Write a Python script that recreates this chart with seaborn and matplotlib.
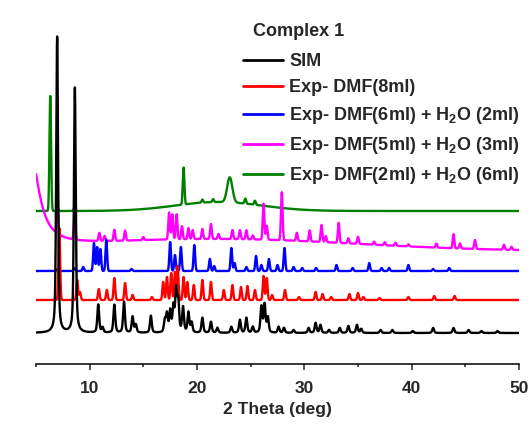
import numpy as np
import pandas as pd
import matplotlib
matplotlib.use("Agg")
import matplotlib.pyplot as plt
import seaborn as sns

# ---- 2-theta grid (deg) ----
two_theta = np.round(np.arange(5.0, 50.0001, 0.01), 2)

# ---- series labels / colours (legend order) ----
labels = [
    "SIM",
    "Exp- DMF(8ml)",
    "Exp- DMF(6ml) + H$_2$O (2ml)",
    "Exp- DMF(5ml) + H$_2$O (3ml)",
    "Exp- DMF(2ml) + H$_2$O (6ml)",
]
colors = ["#000000", "#ff0000", "#0000ff", "#ff00ff", "#008000"]
offsets = [31, 64, 93, 112.8, 153]        # vertical stacking (a.u.)
peak_sigma = [0.085, 0.075, 0.075, 0.075, 0.075]

# ---- reflection lists: position (deg) and intensity (a.u.) ----
sim_pos = [6.97, 8.62, 10.8, 11.2, 12.3, 13.2, 14.0, 14.3, 15.7, 17.0, 17.2,
           17.5, 17.8, 18.05, 18.25, 18.7, 19.2, 19.5, 20.5, 21.3, 21.9, 23.2,
           24.0, 24.6, 25.2, 26.0, 26.3, 26.6, 27.6, 28.1, 29.0, 30.4, 31.05,
           31.5, 32.3, 33.3, 34.1, 34.9, 35.3, 37.1, 38.2, 40.1, 42.0, 43.9,
           45.3, 46.5, 48.0]
sim_int = [296, 245, 28, 5, 28, 31, 16, 8, 17, 12, 18,
           21, 25, 41, 30, 25, 20, 10, 15, 11, 5, 6,
           13, 15, 6, 26, 28, 15, 6, 5, 3, 5, 10,
           8, 3, 5, 7, 8, 4, 3, 3, 2, 5, 5,
           3, 2, 2]

dmf8_pos = [7.17, 8.84, 9.1, 10.85, 11.6, 12.3, 13.3, 14.0, 15.8, 16.85, 17.2,
            17.6, 17.95, 18.2, 18.75, 19.1, 19.7, 20.5, 21.3, 22.5, 23.3, 24.1,
            24.7, 25.4, 26.2, 26.5, 27.0, 28.2, 29.5, 31.05, 31.7, 32.5, 34.2,
            35.0, 35.5, 37.0, 39.7, 42.1, 44.0]
dmf8_int = [72, 20, 8, 11, 10, 22, 17, 5, 3, 18, 23,
            27, 28, 34, 23, 18, 15, 20, 18, 10, 15, 13,
            14, 10, 24, 22, 5, 10, 3, 8, 6, 3, 6,
            7, 3, 2, 3, 4, 4]

dmf6_pos = [7.0, 8.6, 9.4, 10.4, 10.7, 11.0, 11.55, 13.9, 17.5, 17.95, 18.5,
            19.75, 21.2, 21.6, 23.2, 23.5, 24.6, 25.5, 26.0, 26.7, 27.5, 28.15,
            29.0, 29.8, 31.1, 33.0, 34.5, 36.05, 37.2, 37.9, 39.7, 42.0, 43.5]
dmf6_int = [2, 3, 4, 28, 24, 22, 31, 2, 29, 16, 24,
            26, 12, 5, 23, 8, 4, 15, 6, 12, 6, 23,
            4, 3, 3, 6, 3, 8, 3, 3, 6, 2, 3]

dmf5_pos = [7.0, 8.6, 10.9, 11.4, 12.3, 13.3, 15.0, 17.4, 17.7, 18.1, 18.6,
            19.2, 19.6, 20.5, 21.3, 22.0, 23.3, 24.0, 24.6, 25.2, 26.2, 26.5,
            27.9, 29.3, 30.5, 31.6, 32.0, 33.2, 34.1, 35.0, 36.5, 37.5, 38.5,
            39.7, 42.3, 43.9, 44.5, 45.9, 48.6, 49.3]
dmf5_int = [30, 26, 8, 5, 11, 10, 3, 27, 25, 25, 13,
            11, 9, 10, 15, 5, 9, 9, 9, 4, 36, 14,
            48, 8, 11, 17, 6, 20, 5, 7, 3, 3, 3,
            2, 4, 14, 5, 9, 5, 3]

dmf2_pos = [6.33, 7.0, 8.6, 18.75, 20.5, 21.5, 24.5, 25.4]
dmf2_int = [115, 3, 4, 37, 3, 3, 5, 4]

# ---- broad background terms: centre, height, width, shape ----
sim_bg = []
dmf8_bg = []
dmf6_bg = []
dmf5_bg = [(4.5, 92, 0.95, "lorentz"), (22.0, 12, 13.0, "gauss")]
dmf2_bg = [(22.0, 9, 4.0, "gauss"), (23.05, 25, 0.24, "gauss")]

peak_lists = [(sim_pos, sim_int), (dmf8_pos, dmf8_int), (dmf6_pos, dmf6_int),
              (dmf5_pos, dmf5_int), (dmf2_pos, dmf2_int)]
bg_lists = [sim_bg, dmf8_bg, dmf6_bg, dmf5_bg, dmf2_bg]


def profile(pos, inten, sigma, bg, offset, mix=0.0):
    """Sum of pseudo-Voigt reflections plus broad background on a baseline."""
    y = np.full_like(two_theta, float(offset))
    gamma = sigma * 1.1774
    for p, h in zip(pos, inten):
        d = two_theta - p
        g = np.exp(-0.5 * (d / sigma) ** 2)
        l = 1.0 / (1.0 + (d / gamma) ** 2)
        y += h * ((1 - mix) * g + mix * l)
    for c, h, w, kind in bg:
        d = two_theta - c
        if kind == "gauss":
            y += h * np.exp(-0.5 * (d / w) ** 2)
        else:
            y += h / (1.0 + (d / w) ** 2)
    return y


frames = []
for i, lab in enumerate(labels):
    pos, inten = peak_lists[i]
    mix = 0.5 if i == 0 else 0.0
    frames.append(pd.DataFrame({
        "two_theta": two_theta,
        "intensity": profile(pos, inten, peak_sigma[i], bg_lists[i], offsets[i], mix),
        "sample": lab,
    }))
data = pd.concat(frames, ignore_index=True)

# ---- style ----
sns.set_style("white")
plt.rcParams["font.family"] = ["Liberation Sans", "DejaVu Sans"]
plt.rcParams["font.weight"] = "bold"
plt.rcParams["mathtext.fontset"] = "custom"
plt.rcParams["mathtext.rm"] = "Liberation Sans:bold"
plt.rcParams["mathtext.default"] = "rm"

fig = plt.figure(figsize=(5.32, 4.24), dpi=100)
ax = fig.add_axes([36 / 532, 60 / 424, 483 / 532, 364 / 424])

zorders = [6, 5, 4, 3, 2]
for i, lab in enumerate(labels):
    sub = data[data["sample"] == lab]
    sns.lineplot(data=sub, x="two_theta", y="intensity", color=colors[i],
                 linewidth=1.7, ax=ax, label=lab, sort=False,
                 zorder=zorders[i])

ax.set_xlim(5, 50)
ax.set_ylim(0, 364)
ax.set_yticks([])
ax.set_ylabel("")
ax.set_xlabel("2 Theta (deg)", fontsize=12.5, fontweight="bold", labelpad=4)
ax.set_xticks([10, 20, 30, 40, 50])
ax.set_xticks([5, 15, 25, 35, 45], minor=True)
ax.tick_params(axis="x", which="major", direction="out", length=4, width=1.1,
               labelsize=12.5, pad=8.5, bottom=True)
ax.tick_params(axis="x", which="minor", direction="out", length=2.5,
               width=1.1, bottom=True)
for lbl in ax.get_xticklabels():
    lbl.set_fontweight("bold")
for side in ["top", "left", "right"]:
    ax.spines[side].set_visible(False)
ax.spines["bottom"].set_linewidth(1.1)
ax.spines["bottom"].set_color("black")
ax.patch.set_alpha(0)

leg = ax.legend(loc="upper left", bbox_to_anchor=((243 - 36) / 483, (364 - 53) / 364),
                frameon=False, fontsize=13, handlelength=2.2, handletextpad=0.35,
                labelspacing=0.5, borderpad=0, borderaxespad=0)
for line in leg.get_lines():
    line.set_linewidth(2.0)
for t in leg.get_texts():
    t.set_fontweight("bold")

fig.text(253 / 532, 1 - 31 / 424, "Complex 1", fontsize=13, fontweight="bold",
         va="center", ha="left")

fig.savefig("out.png", dpi=100)
